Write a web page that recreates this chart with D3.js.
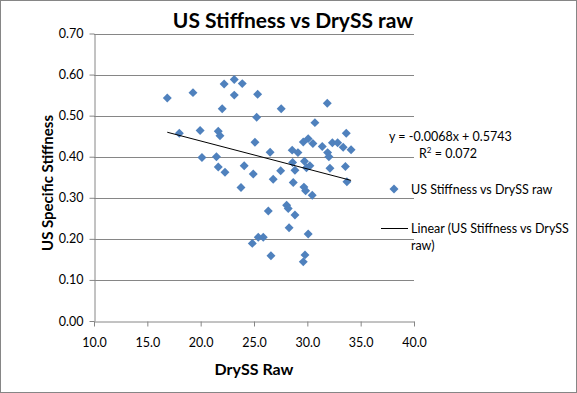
<!DOCTYPE html>
<html>
<head>
<meta charset="utf-8">
<script src="https://cdn.jsdelivr.net/npm/d3@7"></script>
<style>
  body { margin: 0; background: #fff; }
  text { font-family: Lato, "Open Sans", sans-serif; fill: #000; }
</style>
</head>
<body>
<div id="chart"></div>
<script>
// values
var drySS = [16.87, 19.28, 22.20, 23.15, 23.15, 23.90, 22.02, 25.34, 25.25, 27.55,
    31.87, 30.71, 18.00, 19.95, 21.65, 21.81, 25.09, 33.65, 20.12, 21.48,
    21.65, 22.28, 24.08, 24.93, 23.78, 26.51, 27.50, 26.80, 28.58, 29.12,
    29.62, 30.08, 30.52, 31.40, 31.90, 32.02, 32.35, 32.84, 33.36, 34.10,
    28.62, 28.84, 29.73, 29.92, 30.24, 32.12, 33.57, 28.68, 29.68, 29.84,
    30.46, 33.71, 26.34, 28.06, 28.21, 28.84, 28.29, 30.08, 25.40, 25.87,
    24.84, 26.59, 29.78, 29.62];
var usStiffness = [0.543, 0.556, 0.577, 0.588, 0.550, 0.578, 0.517, 0.552, 0.496, 0.517,
    0.530, 0.483, 0.457, 0.464, 0.462, 0.451, 0.435, 0.457, 0.398, 0.400,
    0.375, 0.362, 0.378, 0.358, 0.325, 0.411, 0.366, 0.345, 0.416, 0.410,
    0.436, 0.444, 0.432, 0.425, 0.410, 0.400, 0.434, 0.434, 0.423, 0.417,
    0.386, 0.367, 0.389, 0.373, 0.378, 0.372, 0.376, 0.337, 0.326, 0.317,
    0.306, 0.339, 0.268, 0.282, 0.274, 0.258, 0.227, 0.212, 0.204, 0.204,
    0.189, 0.159, 0.161, 0.144];
var xTicks = [10, 15, 20, 25, 30, 35, 40];
var yTicks = [0, 0.1, 0.2, 0.3, 0.4, 0.5, 0.6, 0.7];
var trendSlope = -0.0068;
var trendIntercept = 0.5743;
var trendR2 = 0.072;

var W = 577, H = 393;
var grey = "#868686", blue = "#4f81bd";

var svg = d3.select("#chart").append("svg")
    .attr("width", W)
    .attr("height", H);

// outer border
svg.append("rect")
    .attr("x", 0.5).attr("y", 0.5)
    .attr("width", W - 1).attr("height", H - 1)
    .attr("fill", "#fff")
    .attr("stroke", grey);

var x = d3.scaleLinear().domain([10, 40]).range([94, 414]);
var y = d3.scaleLinear().domain([0, 0.7]).range([321, 33.5]);

// gridlines
svg.append("g").selectAll("line")
    .data(yTicks.filter(function(d) { return d > 0; }))
    .enter().append("line")
    .attr("x1", x(10)).attr("x2", x(40))
    .attr("y1", function(d) { return Math.round(y(d)) + 0.5; })
    .attr("y2", function(d) { return Math.round(y(d)) + 0.5; })
    .attr("stroke", grey);

// x axis
var xAxis = svg.append("g")
    .attr("transform", "translate(0," + (Math.round(y(0)) + 0.5) + ")")
    .call(d3.axisBottom(x).tickValues(xTicks).tickSize(5).tickSizeOuter(0)
        .tickFormat(d3.format(".1f")));
xAxis.selectAll("path, line").attr("stroke", grey);
xAxis.selectAll("text")
    .attr("y", 0).attr("dy", null)
    .attr("transform", "translate(0,25)")
    .style("font-size", "12.5px")
    .style("font-family", "Lato, sans-serif")
    .attr("fill", "#000");

// y axis
var yAxis = svg.append("g")
    .attr("transform", "translate(" + (Math.round(x(10)) + 0.5) + ",0)")
    .call(d3.axisLeft(y).tickValues(yTicks).tickSize(5).tickSizeOuter(0)
        .tickPadding(6).tickFormat(d3.format(".2f")));
yAxis.selectAll("path, line").attr("stroke", grey);
yAxis.selectAll("text")
    .style("font-size", "12.5px")
    .style("font-family", "Lato, sans-serif")
    .attr("fill", "#000");

// points
var diamond = d3.symbol().type(d3.symbolSquare).size(40);
svg.append("g").selectAll("path")
    .data(drySS.map(function(d, i) { return [d, usStiffness[i]]; }))
    .enter().append("path")
    .attr("d", diamond)
    .attr("transform", function(d) {
        return "translate(" + x(d[0]) + "," + y(d[1]) + ") rotate(45)";
    })
    .attr("fill", blue);

// linear trendline over the data range
var xMin = d3.min(drySS), xMax = d3.max(drySS);
svg.append("line")
    .attr("x1", x(xMin)).attr("y1", y(trendSlope * xMin + trendIntercept))
    .attr("x2", x(xMax)).attr("y2", y(trendSlope * xMax + trendIntercept))
    .attr("stroke", "#000")
    .attr("stroke-width", 1);

// equation label
svg.append("text")
    .attr("x", 389).attr("y", 141)
    .style("font-size", "12.5px")
    .text("y = " + trendSlope.toFixed(4) + "x + " + trendIntercept.toFixed(4));
var r2 = svg.append("text")
    .attr("x", 419).attr("y", 158)
    .style("font-size", "12.5px");
r2.append("tspan").text("R");
r2.append("tspan").attr("dy", -5).style("font-size", "8px").text("2");
r2.append("tspan").attr("dy", 5).text(" = " + trendR2.toFixed(3));

// title
svg.append("text")
    .attr("x", 293).attr("y", 28)
    .attr("text-anchor", "middle")
    .style("font-size", "21px")
    .style("font-weight", "bold")
    .text("US Stiffness vs DrySS raw");

// axis titles
svg.append("text")
    .attr("x", 254).attr("y", 375)
    .attr("text-anchor", "middle")
    .style("font-size", "16px")
    .style("font-weight", "bold")
    .text("DrySS Raw");
svg.append("text")
    .attr("transform", "translate(53,183) rotate(-90)")
    .attr("text-anchor", "middle")
    .style("font-size", "15px")
    .style("font-weight", "bold")
    .text("US Specific Stiffness");

// legend
var legend = svg.append("g");
legend.append("path")
    .attr("d", diamond)
    .attr("transform", "translate(394,189) rotate(45)")
    .attr("fill", blue);
legend.append("text")
    .attr("x", 411).attr("y", 193.5)
    .style("font-size", "12.5px")
    .text("US Stiffness vs DrySS raw");
legend.append("line")
    .attr("x1", 381).attr("x2", 408)
    .attr("y1", 228.5).attr("y2", 228.5)
    .attr("stroke", "#000");
legend.append("text")
    .attr("x", 411).attr("y", 233)
    .style("font-size", "12.5px")
    .text("Linear (US Stiffness vs DrySS");
legend.append("text")
    .attr("x", 411).attr("y", 250)
    .style("font-size", "12.5px")
    .text("raw)");
</script>
</body>
</html>
